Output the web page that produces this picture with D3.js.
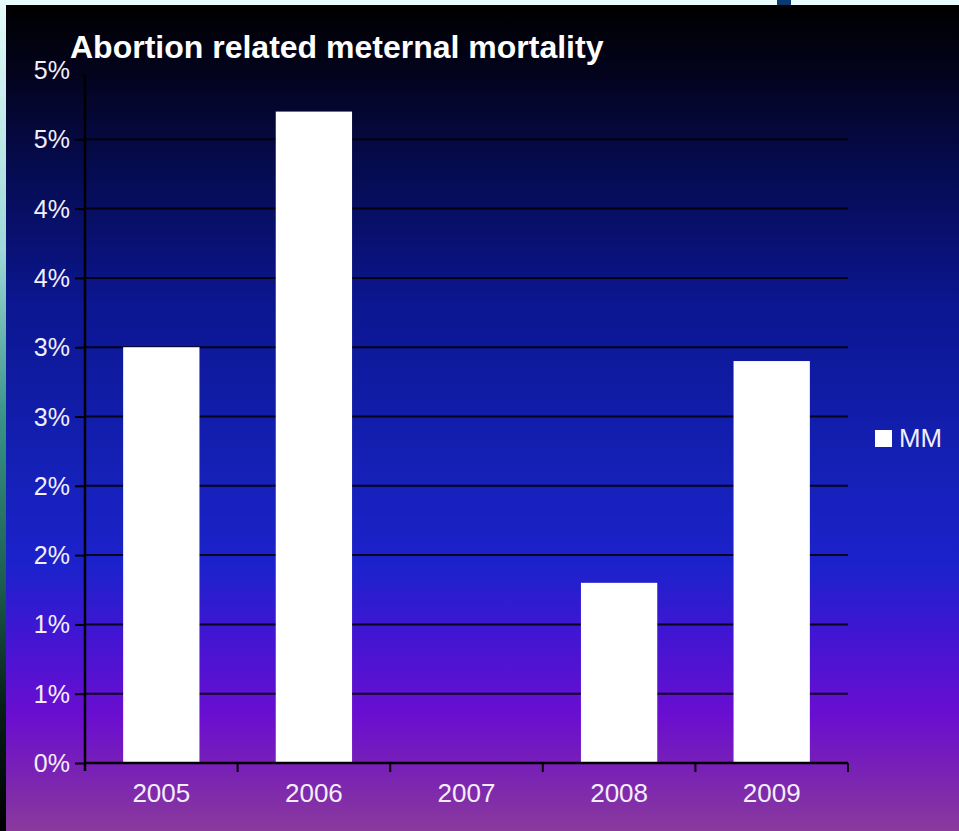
<!DOCTYPE html>
<html>
<head>
<meta charset="utf-8">
<script src="https://cdn.jsdelivr.net/npm/d3@7"></script>
<style>
  html, body { margin: 0; padding: 0; background: #000; }
  svg { display: block; }
  text { font-family: "Liberation Sans", Arial, sans-serif; }
</style>
</head>
<body>
<svg id="chart" width="959" height="831"></svg>
<script>
// Share of maternal deaths related to abortion, per year
const years = ["2005", "2006", "2007", "2008", "2009"];
const mmValues = [3.0, 4.7, 0, 1.3, 2.9];
const tickValues = [0, 0.5, 1, 1.5, 2, 2.5, 3, 3.5, 4, 4.5, 5];
const seriesName = "MM";
const titleText = "Abortion related meternal mortality";

const W = 959, H = 831;
const svg = d3.select("#chart");
const defs = svg.append("defs");

// slide background: dark top fading through blue into purple
const bg = defs.append("linearGradient").attr("id", "bg")
  .attr("x1", 0).attr("y1", 0).attr("x2", 0).attr("y2", 1);
[[0, "#000000"], [0.08, "#03031c"], [0.18, "#050a48"], [0.36, "#0b1690"],
 [0.55, "#1420b4"], [0.68, "#1c22cc"], [0.76, "#4016d2"], [0.86, "#6a0ed0"],
 [0.93, "#7a22b4"], [1, "#8a3a9c"]].forEach(([o, c]) =>
  bg.append("stop").attr("offset", o).attr("stop-color", c));

// thin edge strip on the left
const edge = defs.append("linearGradient").attr("id", "edge")
  .attr("x1", 0).attr("y1", 0).attr("x2", 0).attr("y2", 1);
[[0, "#e6fbfb"], [0.3, "#9ed8d8"], [0.5, "#3a9488"], [0.7, "#1c5e50"], [0.85, "#062018"], [1, "#000000"]]
  .forEach(([o, c]) => edge.append("stop").attr("offset", o).attr("stop-color", c));

svg.append("rect").attr("x", 0).attr("y", 0).attr("width", W).attr("height", H).attr("fill", "#e8fdfd");
svg.append("rect").attr("x", 0).attr("y", 0).attr("width", 6).attr("height", H).attr("fill", "url(#edge)");
svg.append("rect").attr("x", 777).attr("y", 0).attr("width", 14).attr("height", 6).attr("fill", "#0b3a72");
svg.append("rect").attr("x", 6).attr("y", 5).attr("width", W - 6).attr("height", H - 5).attr("fill", "url(#bg)");

const plot = { left: 85, right: 848, top: 70, bottom: 763 };

const x = d3.scaleBand().domain(years).range([plot.left, plot.right]).paddingInner(0.5).paddingOuter(0.25);
const xBand = d3.scaleBand().domain(years).range([plot.left, plot.right]);
const y = d3.scaleLinear().domain([0, 5]).range([plot.bottom, plot.top]);

// horizontal gridlines
svg.append("g").selectAll("line")
  .data(tickValues.filter(v => v > 0 && v < 5))
  .join("line")
  .attr("x1", plot.left).attr("x2", plot.right)
  .attr("y1", d => y(d)).attr("y2", d => y(d))
  .attr("stroke", "#000000").attr("stroke-width", 2).attr("stroke-opacity", 0.85);

// bars
svg.append("g").selectAll("rect")
  .data(years.map((yr, i) => ({ yr, v: mmValues[i] })).filter(d => d.v > 0))
  .join("rect")
  .attr("x", d => x(d.yr))
  .attr("width", x.bandwidth())
  .attr("y", d => y(d.v))
  .attr("height", d => y(0) - y(d.v))
  .attr("fill", "#ffffff");

// y axis: whole-percent labels, halves rounded up
const yAxis = d3.axisLeft(y).tickValues(tickValues).tickSize(10).tickPadding(5)
  .tickFormat(d => Math.floor(d + 0.5) + "%");
const gy = svg.append("g").attr("transform", `translate(${plot.left},0)`).call(yAxis);
gy.select(".domain").remove();
gy.append("line").attr("x1", 0).attr("x2", 0).attr("y1", plot.top + 4).attr("y2", plot.bottom + 8)
  .attr("stroke", "#000").attr("stroke-width", 2.5);
gy.selectAll(".tick line").attr("stroke", "#000").attr("stroke-width", 2)
  .attr("x1", -10).attr("x2", 0);
gy.selectAll(".tick").filter(d => d === 5).select("line").remove();
gy.selectAll(".tick text").attr("fill", "#f2eefa").attr("font-size", 25)
  .attr("font-family", "'Liberation Sans', Arial, sans-serif").attr("dy", "0.34em");

// x axis
const gx = svg.append("g").attr("transform", `translate(0,${plot.bottom})`);
gx.append("line").attr("x1", plot.left).attr("x2", plot.right).attr("y1", 0).attr("y2", 0)
  .attr("stroke", "#000").attr("stroke-width", 2.5);
gx.selectAll(".sep")
  .data(years.map(yr => xBand(yr)).concat([plot.right]).slice(1))
  .join("line").attr("class", "sep")
  .attr("x1", d => d).attr("x2", d => d).attr("y1", 0).attr("y2", 9)
  .attr("stroke", "#000").attr("stroke-width", 2);
gx.selectAll(".lbl").data(years).join("text").attr("class", "lbl")
  .attr("x", d => xBand(d) + xBand.bandwidth() / 2)
  .attr("y", 39)
  .attr("text-anchor", "middle")
  .attr("fill", "#f2eefa").attr("font-size", 26)
  .text(d => d);

// title
svg.append("text").attr("x", 70).attr("y", 58)
  .attr("fill", "#ffffff").attr("font-size", 32).attr("font-weight", "bold")
  .text(titleText);

// legend
const lg = svg.append("g").attr("transform", "translate(875,430)");
lg.append("rect").attr("width", 17).attr("height", 17).attr("fill", "#ffffff");
lg.append("text").attr("x", 24).attr("y", 17).attr("fill", "#f2eefa").attr("font-size", 26)
  .attr("textLength", 43).attr("lengthAdjust", "spacingAndGlyphs").text(seriesName);
</script>
</body>
</html>
